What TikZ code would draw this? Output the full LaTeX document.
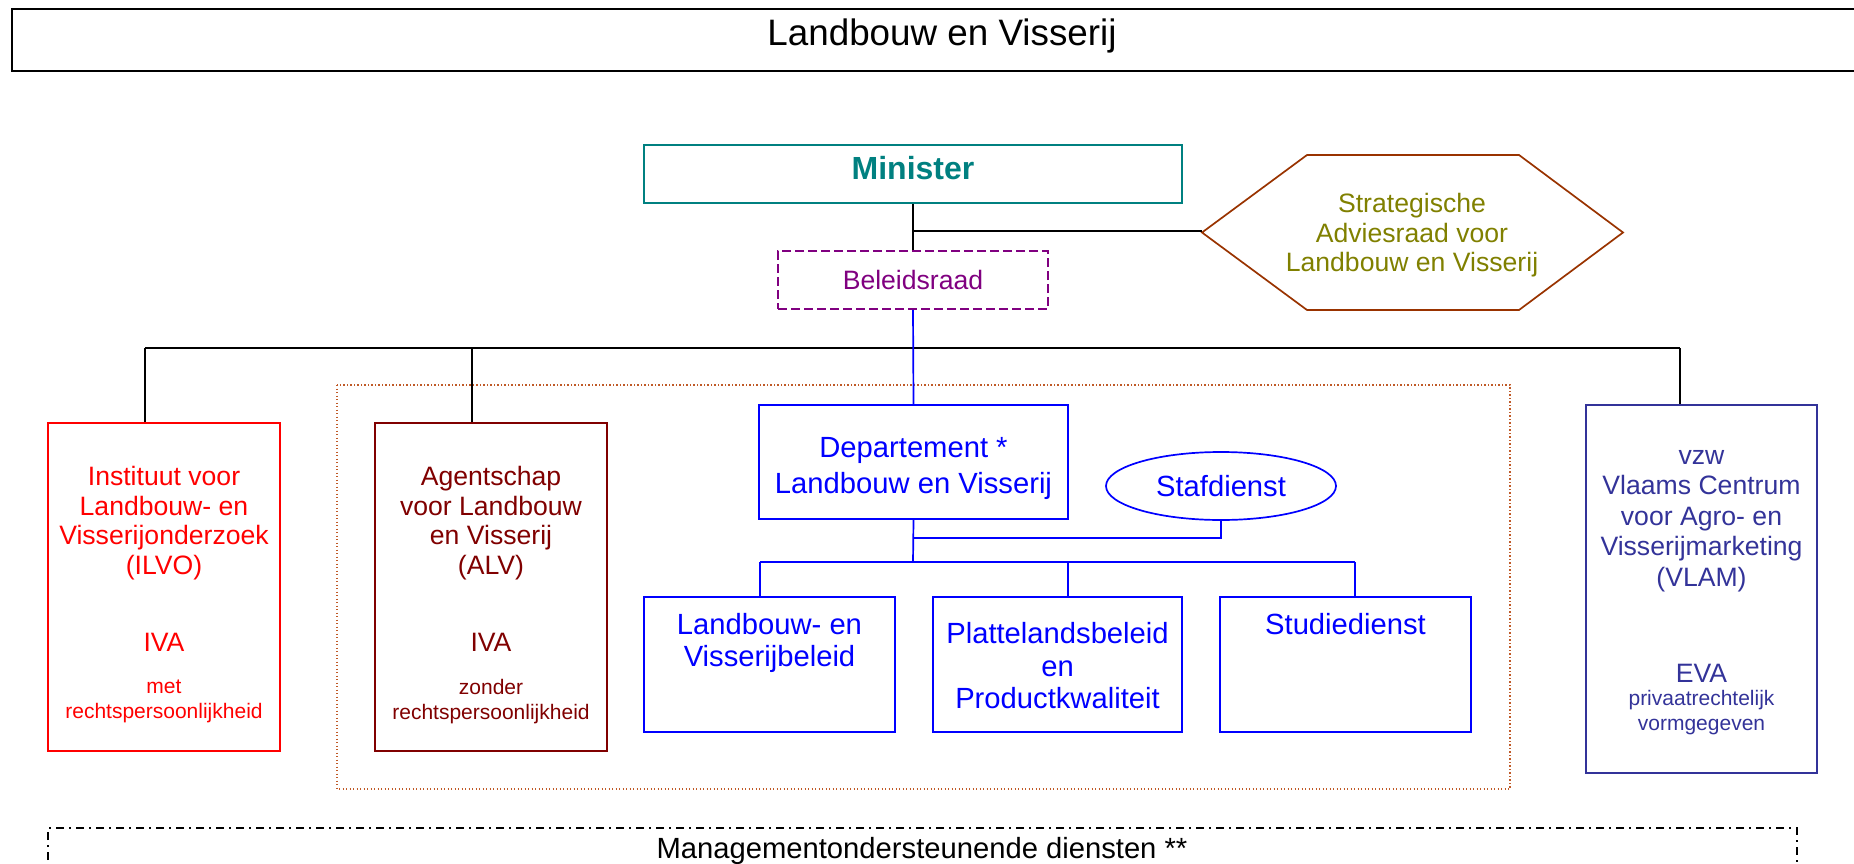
\documentclass[tikz,border=0pt]{standalone}
\usepackage{fontspec}
\setmainfont{Liberation Sans}
\usetikzlibrary{shapes.geometric}
\definecolor{cTeal}{HTML}{008080}
\definecolor{cBrown}{HTML}{993300}
\definecolor{cOlive}{HTML}{808000}
\definecolor{cPurple}{HTML}{800080}
\definecolor{cBlue}{HTML}{0000FF}
\definecolor{cRed}{HTML}{FF0000}
\definecolor{cDarkRed}{HTML}{800000}
\definecolor{cNavy}{HTML}{333399}
\definecolor{cOrange}{HTML}{C05A28}
\tikzset{
  box/.style={draw, line width=1.7pt, inner sep=0pt},
  lbl/.style={inner sep=0pt, align=center},
  f26/.style={font=\fontsize{26.6}{29.5}\selectfont},
  f29/.style={font=\fontsize{29.2}{32.5}\selectfont},
  f21/.style={font=\fontsize{21}{25}\selectfont},
  conn/.style={line width=1.7pt},
}
\begin{document}
\begin{tikzpicture}[x=1pt,y=-1pt]
\useasboundingbox (0,0) rectangle (1854,864);

% title
\draw[line width=2pt] (12,9) rectangle (1880,71);
\node[lbl, font=\fontsize{36.8}{40}\selectfont] (title) at (942,36) {Landbouw en Visserij};

% Minister
\node[box, draw=cTeal, minimum width=538pt, minimum height=58pt] (min) at (913,174) {};
\node[lbl, text=cTeal, font=\fontsize{32}{36}\selectfont\bfseries] (minT) at (913,168) {Minister};

% Strategische adviesraad (hexagon)
\draw[line width=1.7pt, draw=cBrown] (1202,232.5) -- (1307,155) -- (1519,155) -- (1623,232.5) -- (1519,310) -- (1307,310) -- cycle;
\coordinate (sarW) at (1202,231);
\node[lbl, f26, text=cOlive] (sar) at (1412,235.5) {Strategische\\Adviesraad voor\\Landbouw en Visserij};

% Beleidsraad
\node[box, draw=cPurple, dash pattern=on 9pt off 4pt, minimum width=270pt, minimum height=58pt] (bel) at (913,280) {};
\node[lbl, f26, text=cPurple] (belT) at (913,280) {Beleidsraad};

% dotted frame
\draw[line width=1.3pt, draw=cOrange, dash pattern=on 1.3pt off 2.2pt] (337,385) rectangle (1510,789);

% Departement
\node[box, draw=cBlue, minimum width=309pt, minimum height=114pt] (dep) at (913.5,462) {};
\node[lbl, text=cBlue, font=\fontsize{29.2}{36}\selectfont] (depT) at (913.5,468) {Departement *\\Landbouw en Visserij};

% Stafdienst
\node[ellipse, draw=cBlue, line width=1.7pt, minimum width=230pt, minimum height=68pt, inner sep=0pt] (staf) at (1221,486) {};
\node[lbl, f29, text=cBlue] (stafT) at (1221,486) {Stafdienst};

% sub boxes
\node[box, draw=cBlue, minimum width=251pt, minimum height=135pt] (lv) at (769.5,664.5) {};
\node[lbl, f29, text=cBlue] (lvT) at (769.5,643) {Landbouw- en\\Visserijbeleid};
\node[box, draw=cBlue, minimum width=249pt, minimum height=135pt] (pp) at (1057.5,664.5) {};
\node[lbl, f29, text=cBlue] (ppT) at (1057.5,666) {Plattelandsbeleid\\en\\Productkwaliteit};
\node[box, draw=cBlue, minimum width=251pt, minimum height=135pt] (sd) at (1345.5,664.5) {};
\node[lbl, f29, text=cBlue] (sdT) at (1345.5,624) {Studiedienst};

% ILVO
\node[box, draw=cRed, minimum width=232pt, minimum height=328pt] (ilvo) at (164,587) {};
\node[lbl, f26, text=cRed] (ilvoT) at (164,523) {Instituut voor\\Landbouw- en\\Visserijonderzoek\\(ILVO)};
\node[lbl, f26, text=cRed] (ilvoI) at (164,642) {IVA};
\node[lbl, f21, text=cRed] (ilvoS) at (164,701.5) {met\\rechtspersoonlijkheid};

% ALV
\node[box, draw=cDarkRed, minimum width=232pt, minimum height=328pt] (alv) at (491,587) {};
\node[lbl, f26, text=cDarkRed] (alvT) at (491,523) {Agentschap\\voor Landbouw\\en Visserij\\(ALV)};
\node[lbl, f26, text=cDarkRed] (alvI) at (491,642) {IVA};
\node[lbl, f21, text=cDarkRed] (alvS) at (491,701.5) {zonder\\rechtspersoonlijkheid};

% VLAM
\node[box, draw=cNavy, minimum width=231pt, minimum height=368pt] (vlam) at (1701.5,589) {};
\node[lbl, text=cNavy, font=\fontsize{26.6}{30.5}\selectfont] (vlamT) at (1701.5,521) {vzw\\Vlaams Centrum\\voor Agro- en\\Visserijmarketing\\(VLAM)};
\node[lbl, f26, text=cNavy] (vlamE) at (1701.5,673) {EVA};
\node[lbl, f21, text=cNavy] (vlamS) at (1701.5,713) {privaatrechtelijk\\vormgegeven};

% management
\draw[line width=1.5pt, dash pattern=on 8pt off 5pt on 2pt off 5pt] (48,880) -- (48,828) -- (1797,828) -- (1797,880);
\node[lbl, f29] (mgmt) at (922,851) {Managementondersteunende diensten **};

% connectors
\draw[conn] (min.south) -- (bel.north);
\coordinate (j0) at (913,231);
\draw[conn] (j0) -- (sarW);
\coordinate (busL) at (145,348);
\coordinate (busA) at (472,348);
\coordinate (busR) at (1680,348);
\draw[conn] (busL) -- (busR);
\draw[conn] (busL) -- (busL |- ilvo.north);
\draw[conn] (busA) -- (busA |- alv.north);
\draw[conn] (busR) -- (busR |- vlam.north);
\draw[conn, cBlue] (bel.south) -- (dep.north);
\coordinate (j1) at (913,538);
\coordinate (j2) at (913,562);
\draw[conn, cBlue] (dep.south) -- (j2);
\draw[conn, cBlue] (j1) -| (staf.south);
\coordinate (b1) at (760,562);
\coordinate (b2) at (1068,562);
\coordinate (b3) at (1355,562);
\draw[conn, cBlue] (b1) -- (b3);
\draw[conn, cBlue] (b1) -- (b1 |- lv.north);
\draw[conn, cBlue] (b2) -- (b2 |- pp.north);
\draw[conn, cBlue] (b3) -- (b3 |- sd.north);
\end{tikzpicture}
\end{document}
